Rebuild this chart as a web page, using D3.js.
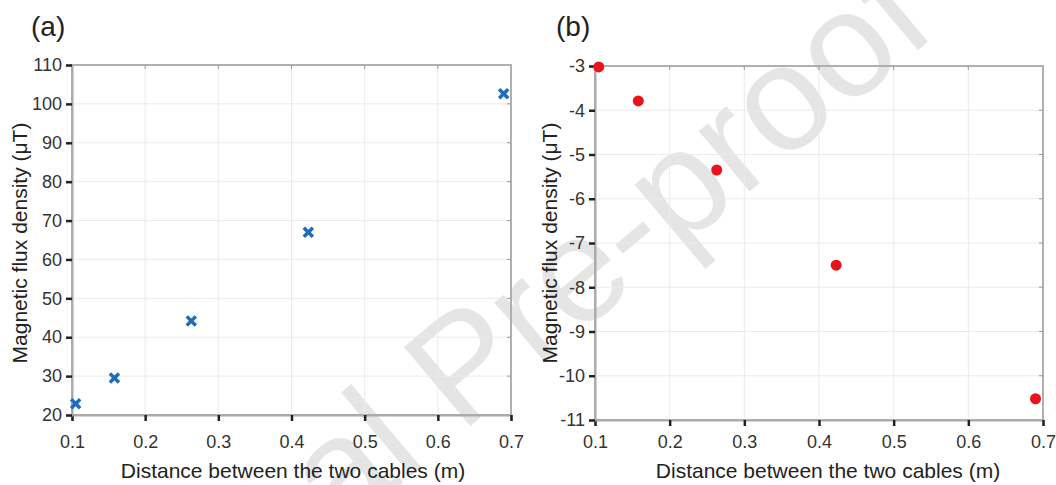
<!DOCTYPE html>
<html lang="en">
<head>
<meta charset="UTF-8">
<script src="https://d3js.org/d3.v7.min.js"></script>
<style>
  body { margin: 0; background: #fff; }
  text { font-family: "Liberation Sans", Arial, sans-serif; }
</style>
</head>
<body>
<div id="app"></div>
<script>
  const svg_width = 1056;
  const svg_height = 485;

  // data
  const distance = [0.105, 0.158, 0.263, 0.423, 0.69];
  const flux_a = [22.9, 29.5, 44.2, 67.0, 102.6];
  const flux_b = [-3.02, -3.79, -5.35, -7.5, -10.52];

  const x_ticks = [0.1, 0.2, 0.3, 0.4, 0.5, 0.6, 0.7];
  const y_ticks_a = [20, 30, 40, 50, 60, 70, 80, 90, 100, 110];
  const y_ticks_b = [-11, -10, -9, -8, -7, -6, -5, -4, -3];

  const x_label = 'Distance between the two cables (m)';
  const y_label = 'Magnetic flux density (μT)';

  var svg = d3.select('#app')
    .append('svg')
    .attr('width', svg_width)
    .attr('height', svg_height);

  // watermark (behind everything)
  svg.append('text')
    .attr('transform', 'translate(52,777) rotate(-40)')
    .attr('font-size', 150)
    .attr('fill', '#000').attr('fill-opacity', 0.1)
    .text('Journal Pre-proof');

  function panel(opt) {
    var x_scale = d3.scaleLinear().domain([0.1, 0.7]).range([opt.left, opt.right]);
    var y_scale = d3.scaleLinear().domain(opt.ydomain).range([opt.bottom, opt.top]);
    var g = svg.append('g');

    // grid
    g.append('g').selectAll('line').data(x_ticks.slice(1, -1)).enter()
      .append('line')
      .attr('x1', d => x_scale(d)).attr('x2', d => x_scale(d))
      .attr('y1', opt.top).attr('y2', opt.bottom)
      .attr('stroke', '#ebebeb').attr('stroke-width', 1);
    g.append('g').selectAll('line').data(opt.yticks.slice(1, -1)).enter()
      .append('line')
      .attr('y1', d => y_scale(d)).attr('y2', d => y_scale(d))
      .attr('x1', opt.left).attr('x2', opt.right)
      .attr('stroke', '#ebebeb').attr('stroke-width', 1);

    // box
    g.append('rect')
      .attr('x', opt.left).attr('y', opt.top)
      .attr('width', opt.right - opt.left).attr('height', opt.bottom - opt.top)
      .attr('fill', 'none').attr('stroke', '#b0b0b0').attr('stroke-width', 2);

    // small inner ticks on top / right
    g.append('g').selectAll('line').data(x_ticks.slice(1, -1)).enter()
      .append('line')
      .attr('x1', d => x_scale(d)).attr('x2', d => x_scale(d))
      .attr('y1', opt.top).attr('y2', opt.top + 4)
      .attr('stroke', '#999');
    g.append('g').selectAll('line').data(opt.yticks.slice(1, -1)).enter()
      .append('line')
      .attr('y1', d => y_scale(d)).attr('y2', d => y_scale(d))
      .attr('x1', opt.right).attr('x2', opt.right - 4)
      .attr('stroke', '#999');

    var x_axis = d3.axisBottom(x_scale).tickValues(x_ticks).tickFormat(d3.format('.1f'))
      .tickSize(6).tickPadding(opt.xpad);
    var gx = g.append('g')
      .attr('transform', 'translate(0,' + opt.bottom + ')')
      .call(x_axis);
    gx.select('.domain').attr('stroke', '#aaa').attr('stroke-width', 2);
    gx.selectAll('.tick line').attr('stroke', '#222').attr('stroke-width', 2.5);
    gx.selectAll('.tick text').attr('font-size', 18).attr('fill', '#333')
      .style('font-family', '"Liberation Sans", Arial, sans-serif');

    var y_axis = d3.axisLeft(y_scale).tickValues(opt.yticks).tickSize(6).tickPadding(4)
      .tickFormat(d => String(d));
    var gy = g.append('g')
      .attr('transform', 'translate(' + opt.left + ',0)')
      .call(y_axis);
    gy.select('.domain').attr('stroke', '#aaa').attr('stroke-width', 2);
    gy.selectAll('.tick line').attr('stroke', '#222').attr('stroke-width', 2.5);
    gy.selectAll('.tick text').attr('font-size', 18).attr('fill', '#333')
      .style('font-family', '"Liberation Sans", Arial, sans-serif');

    // titles
    g.append('text')
      .attr('x', opt.xlabel_x).attr('y', 478)
      .attr('text-anchor', 'middle').attr('font-size', 21).attr('fill', '#222')
      .text(x_label);
    g.append('text')
      .attr('transform', 'translate(' + opt.ylabel_x + ',243) rotate(-90)')
      .attr('text-anchor', 'middle').attr('font-size', 21).attr('fill', '#222')
      .text(y_label);
    g.append('text')
      .attr('x', opt.tag_x).attr('y', 36)
      .attr('font-size', 28).attr('fill', '#222')
      .text(opt.tag);

    return { x: x_scale, y: y_scale, g: g };
  }

  var pa = panel({ left: 72, right: 511, top: 65, bottom: 415, ydomain: [20, 110], yticks: y_ticks_a,
    tag: '(a)', tag_x: 31, xpad: 14, xlabel_x: 293, ylabel_x: 27 });
  var pb = panel({ left: 595, right: 1043, top: 66, bottom: 420, ydomain: [-11, -3], yticks: y_ticks_b,
    tag: '(b)', tag_x: 556, xpad: 9, xlabel_x: 828, ylabel_x: 557 });

  // markers (a): blue x
  var xs = d3.symbol().type(d3.symbolX).size(55);
  pa.g.append('g').selectAll('path').data(distance).enter()
    .append('path')
    .attr('d', xs)
    .attr('transform', (d, i) => 'translate(' + pa.x(d) + ',' + pa.y(flux_a[i]) + ')')
    .attr('stroke', '#1f6cb8').attr('stroke-width', 3.5).attr('fill', 'none');

  // markers (b): red dots
  pb.g.append('g').selectAll('circle').data(distance).enter()
    .append('circle')
    .attr('cx', d => pb.x(d))
    .attr('cy', (d, i) => pb.y(flux_b[i]))
    .attr('r', 5.5)
    .attr('fill', '#e8141c');
</script>
</body>
</html>
